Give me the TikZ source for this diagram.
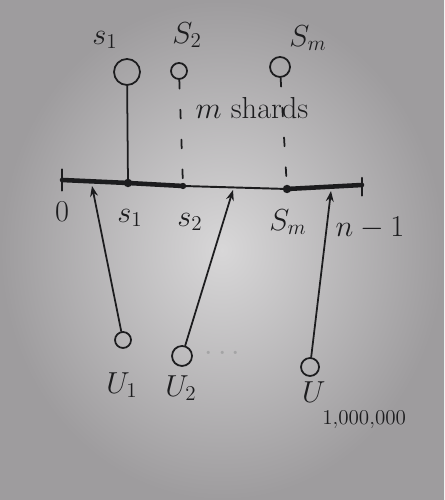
\documentclass[tikz,border=0pt]{standalone}
\usepackage{amsmath}
\usetikzlibrary{positioning, arrows.meta}
\definecolor{ink}{RGB}{28,28,30}
\definecolor{paperlight}{RGB}{216,215,216}
\definecolor{paperdark}{RGB}{158,156,158}

\begin{document}
\begin{tikzpicture}[
            inkline/.style={draw=ink, line width=1pt, line cap=round},
            ring/.style={inkline, line width=1.1pt},
            heavy/.style={inkline, line width=2.6pt},
            shard/.style={circle, draw=ink, line width=1pt, inner sep=0pt},
            user/.style={circle, draw=ink, line width=1pt, inner sep=0pt},
            guide/.style={inkline, dash pattern=on 5pt off 12pt},
            request/.style={inkline, -{Stealth[length=6pt, width=4.5pt]}},
            lbl/.style={text=ink, font=\LARGE, inner sep=1pt}
        ]
        % Paper
        \shade[inner color=paperlight, outer color=paperdark] (0,0) rectangle (8.88,10);
        \useasboundingbox (0,0) rectangle (8.88,10);
        % Key range 0 .. n-1
        \coordinate (lo) at (1.24,6.40);
        \coordinate (p1) at (2.56,6.34);
        \coordinate (p2) at (3.66,6.28);
        \coordinate (pm) at (5.74,6.22);
        \coordinate (hi) at (7.24,6.30);
        \draw[heavy] (lo) -- (p1) -- (p2);
        \draw[ring] (p2) -- (pm);
        \draw[heavy] (pm) -- (hi);
        \draw[ring] ([yshift=-6pt]lo) -- ([yshift=6pt]lo);
        \draw[ring] ([yshift=-6pt]hi) -- ([yshift=4pt]hi);
        \fill[ink] (p1) circle (2.4pt);
        \fill[ink] (p2) circle (1.8pt);
        \fill[ink] (pm) circle (2.4pt);
        \node[lbl] (k0) at (1.24,5.76) {$0$};
        \node[lbl] (k1) at (2.60,5.64) {$s_1$};
        \node[lbl] (k2) at (3.80,5.56) {$s_2$};
        \node[lbl] (km) at (5.76,5.56) {$S_m$};
        \node[lbl] (kn) at (7.40,5.44) {$n-1$};
        % Shards (top)
        \node[shard, minimum size=0.52cm] (S1) at (2.54,8.56) {};
        \node[shard, minimum size=0.32cm] (S2) at (3.58,8.58) {};
        \node[shard, minimum size=0.40cm] (Sm) at (5.60,8.66) {};
        \node[lbl] (t1) at (2.10,9.20) {$s_1$};
        \node[lbl] (t2) at (3.74,9.30) {$S_2$};
        \node[lbl] (tm) at (6.16,9.24) {$S_m$};
        \draw[inkline] (S1) -- (p1);
        \draw[guide] (S2) -- (p2);
        \draw[guide] (Sm) -- (pm);
        \node[lbl] (shards) at (5.04,7.84) {$m$ shards};
        % Users (bottom)
        \node[user, minimum size=0.32cm] (U1) at (2.46,3.20) {};
        \node[user, minimum size=0.40cm] (U2) at (3.64,2.88) {};
        \node[user, minimum size=0.36cm] (Un) at (6.20,2.66) {};
        \node[text=ink!40, font=\LARGE] (more) at (4.50,2.92) {$\cdots$};
        \node[lbl] (u1) at (2.44,2.30) {$U_1$};
        \node[lbl] (u2) at (3.62,2.24) {$U_2$};
        \node[lbl, anchor=north west] (un) at (6.00,2.40) {$U_{\lower10pt\hbox{$\scriptstyle 1{,}000{,}000$}}$};
        % Requests hashed onto the range
        \coordinate (h1) at (1.84,6.28);
        \coordinate (h2) at (4.66,6.20);
        \coordinate (hn) at (6.62,6.18);
        \draw[request] (U1) -- (h1);
        \draw[request] (U2) -- (h2);
        \draw[request] (Un) -- (hn);
        \end{tikzpicture}
\end{document}
